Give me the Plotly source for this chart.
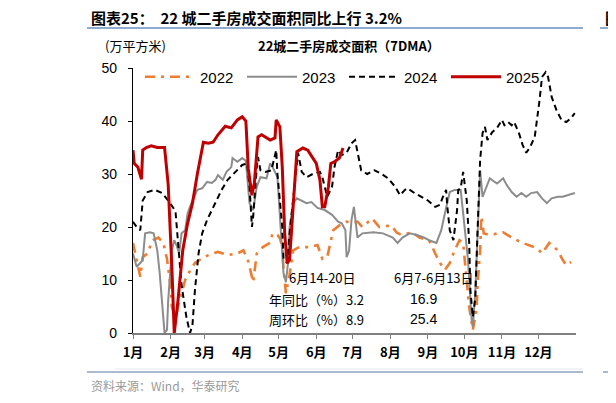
import plotly.graph_objects as go

# 22城二手房成交面积（7DMA），单位：万平方米；横轴为一年中的第几天
days_2022 = [0, 3, 6, 8, 12, 16, 21, 25, 28, 31, 32, 35, 37, 40, 43, 45, 51, 57, 62, 70, 78, 86,
             91, 95, 98, 99, 102, 107, 113, 115, 119, 121, 123, 124, 126, 129, 132, 137, 146, 152,
             156, 160, 165, 170, 176, 181, 185, 189, 197, 203, 213, 217, 221, 230, 236, 244, 249,
             253, 257, 261, 265, 269, 272, 275, 277, 280, 283, 284, 286, 287, 289, 294, 300, 305,
             312, 321, 328, 333, 337, 343, 350, 354, 357, 361]
area_2022 = [17, 13.8, 10.6, 14.3, 15, 17.5, 18, 17, 14, 8.7, 5, 2.4, 5, 7.5, 10, 11, 13.2, 14.1,
             14.7, 15.3, 14.7, 15, 15.6, 13.5, 10.6, 9.6, 15, 16.2, 17, 18.8, 18.5, 17.9, 16.2, 12,
             7.5, 11, 15.6, 16.2, 16.2, 16.6, 14, 14.3, 19.4, 20.3, 21, 20.8, 21, 20, 21.6, 20, 20.3,
             19, 18.5, 19, 18, 17.5, 15, 13.2, 11.9, 13.2, 15.6, 17.5, 17, 9.4, 4.9, 0.6, 4.3, 9.4,
             15.6, 22, 18.8, 18.5, 18.8, 19, 18, 17, 16.4, 16, 15, 17, 15.6, 13.8, 12.8, 13.4]

days_2023 = [0, 3, 6, 8, 10, 14, 17, 20, 22, 24, 26, 28, 29, 32, 34, 36, 38, 40, 43, 45, 49, 53,
             57, 61, 65, 68, 70, 74, 77, 81, 82, 86, 90, 93, 94, 96, 99, 102, 105, 110, 113, 115,
             119, 121, 123, 124, 126, 128, 129, 132, 135, 139, 143, 147, 152, 158, 164, 169, 172,
             175, 176, 178, 180, 182, 184, 185, 189, 198, 206, 214, 218, 222, 228, 234, 240, 244,
             250, 254, 257, 259, 261, 265, 270, 272, 273, 276, 279, 280, 282, 284, 286, 288, 291,
             294, 298, 300, 305, 308, 312, 316, 320, 324, 328, 333, 337, 341, 345, 350, 354, 358,
             364]
area_2023 = [15, 12.5, 13.2, 13.8, 18.8, 19, 18.8, 15.6, 11.3, 6.2, 0, 0.6, 6.2, 15.6, 17.5, 16.5,
             15, 18.8, 19.4, 22.6, 25, 27, 27.3, 28.5, 28.3, 28.9, 29.8, 28.9, 30.4, 31.3, 33, 32.3,
             33, 32.5, 29.4, 24.5, 23.2, 27.6, 29.4, 29.2, 32, 31.3, 29.4, 21.9, 15.6, 11.3, 9.6,
             13.8, 20, 24.5, 25.4, 25, 24.5, 24.7, 23.6, 23.2, 22.3, 21, 20.7, 19.4, 14.3, 15.5,
             21.3, 23.8, 20, 18, 18.8, 19, 18.8, 18, 17, 18, 18.8, 18.5, 18, 17.5, 17, 19.4, 22.6,
             24.5, 26.6, 27, 27, 22.6, 20.7, 13.8, 2.5, 1.1, 7.5, 20, 30.7, 25.7, 27.6, 29.2, 28.5,
             28.2, 29.2, 27.9, 26.6, 25.7, 26.4, 25.7, 26.4, 26.6, 25.4, 24.5, 25.4, 25.7, 25.7, 26,
             26.4]

days_2024 = [0, 3, 6, 8, 12, 18, 24, 29, 35, 37, 40, 44, 47, 49, 51, 54, 57, 61, 66, 73, 78, 84,
             90, 94, 96, 98, 99, 102, 103, 105, 109, 114, 117, 118, 119, 123, 124, 127, 129, 133,
             136, 139, 143, 148, 154, 156, 160, 164, 166, 169, 172, 176, 180, 183, 185, 188, 193,
             199, 205, 210, 216, 220, 224, 226, 232, 238, 243, 249, 253, 255, 258, 259, 261, 264,
             267, 268, 270, 272, 273, 275, 277, 278, 280, 282, 284, 286, 288, 290, 292, 296, 300,
             304, 306, 309, 312, 314, 318, 321, 324, 327, 331, 333, 335, 337, 340, 342, 345, 349,
             353, 357, 361, 364]
area_2024 = [21, 20, 19.4, 25, 26.6, 27, 26.4, 25, 23, 18, 9, 3, 0, 1.5, 8, 15, 18.8, 21.3, 23.8,
             27, 28.9, 30.4, 31.7, 32, 27.6, 20, 21.9, 31.3, 33.2, 30.7, 30.4, 30.7, 33.2, 34.5, 30,
             20, 14, 13.2, 18.8, 28.3, 34, 30.4, 29.4, 30, 30.4, 29.4, 25.7, 27.6, 31.3, 34.5, 33.6,
             34, 35.8, 36.4, 34, 30.7, 30, 30.7, 30, 29.2, 27.6, 26, 27, 27.3, 26.4, 25.7, 25, 23.8,
             24.2, 25.5, 27, 23.8, 19.4, 17.5, 23.2, 27, 27.3, 30.4, 28.9, 25, 17, 8, 3, 6.5, 20,
             32.6, 37.7, 38.9, 36.4, 37.9, 38.7, 40.2, 39.2, 39.8, 39.2, 39.8, 37.7, 35.5, 34, 35,
             37, 40.2, 44, 48.3, 49.2, 48.3, 44.5, 42, 40.2, 39.8, 40.6, 41.5]

days_2025 = [0, 1, 4, 7, 8, 11, 15, 20, 26, 29, 32, 34, 37, 41, 45, 49, 53, 58, 62, 66, 70, 76,
             81, 86, 90, 93, 95, 98, 100, 103, 106, 113, 117, 118, 121, 123, 125, 127, 129, 132,
             135, 140, 144, 151, 154, 156, 158, 161, 163, 166, 170, 172, 173]
area_2025 = [34.5, 32, 31.3, 29, 34.5, 35, 35.3, 35, 35, 28, 12.5, 0, 6, 15.6, 20.7, 24.5, 30, 36,
             35.8, 36, 37.4, 39, 38.7, 40.2, 40.8, 40, 31, 26, 28.3, 37, 37.4, 36.4, 36.8, 40.2,
             38.9, 31.3, 18.8, 13.2, 13.8, 25, 34.2, 34.9, 34.5, 32, 28.9, 23.8, 23.8, 27.6, 32,
             32.3, 33, 34.2, 34.9]

month_start = [0, 31, 59, 90, 120, 151, 181, 212, 243, 273, 304, 334]
month_labels = ["1月", "2月", "3月", "4月", "5月", "6月", "7月", "8月", "9月", "10月", "11月", "12月"]

# 图中右下角的统计表
stat_periods = ["6月14-20日", "6月7-6月13日"]
yoy = [3.2, 16.9]
wow = [8.9, 25.4]

# 页面自带 8px 边距，图本身比窗口小 8px
W, H = 608, 395
L, R, T, B = 125, 40, 60, 70
PW, PH = W - L - R, H - T - B


def px(x):
    # 参考图上的像素横坐标 -> paper 坐标
    return (x - 8 - L) / PW


def py(y):
    return (H - B - (y - 8)) / PH


FONT = "Arial, Liberation Sans, Noto Sans CJK SC"
CJK = "Noto Sans CJK SC, Arial"

fig = go.Figure()
fig.add_trace(go.Scatter(x=days_2022, y=area_2022, name="2022", mode="lines",
                         line=dict(color="#ED7D31", width=2.6, dash="10px,6px,3px,6px")))
fig.add_trace(go.Scatter(x=days_2023, y=area_2023, name="2023", mode="lines",
                         line=dict(color="#8C8C8C", width=2)))
fig.add_trace(go.Scatter(x=days_2024, y=area_2024, name="2024", mode="lines",
                         line=dict(color="#000000", width=2, dash="6px,4px")))
fig.add_trace(go.Scatter(x=days_2025, y=area_2025, name="2025", mode="lines",
                         line=dict(color="#C00000", width=3)))

fig.update_layout(
    width=W, height=H,
    margin=dict(l=L, r=R, t=T, b=B),
    paper_bgcolor="white", plot_bgcolor="white",
    font=dict(family=FONT, size=14, color="black"),
    showlegend=True,
    legend=dict(orientation="h", x=px(140), xanchor="left", y=py(77), yanchor="middle",
                bgcolor="rgba(0,0,0,0)", font=dict(size=15), itemwidth=50, entrywidth=37,
                entrywidthmode="pixels", tracegroupgap=0),
    xaxis=dict(range=[0, 365], tickvals=month_start, ticktext=month_labels,
               showgrid=False, zeroline=False, showline=True, linecolor="#7F7F7F",
               linewidth=1.5, ticks="outside", ticklen=4, tickcolor="#7F7F7F",
               ticklabelstandoff=3,
               tickfont=dict(family=CJK, size=13, weight="bold")),
    yaxis=dict(range=[0, 50], dtick=10, showgrid=False, zeroline=False, showline=True,
               linecolor="black", linewidth=1.2, ticks="outside", ticklen=4,
               tickcolor="black", ticklabelstandoff=8, tickfont=dict(size=14)),
)

# 标题、单位、来源
fig.add_annotation(x=px(89), y=py(17), xref="paper", yref="paper", xanchor="left",
                   yanchor="middle", showarrow=False,
                   text="<b>图表25：  22 城二手房成交面积同比上行 3.2%</b>",
                   font=dict(family=CJK, size=15))
fig.add_annotation(x=px(349), y=py(45), xref="paper", yref="paper", xanchor="center",
                   yanchor="middle", showarrow=False,
                   text="<b>22城二手房成交面积（7DMA）</b>", font=dict(family=CJK, size=13))
fig.add_annotation(x=px(103), y=py(45), xref="paper", yref="paper", xanchor="left",
                   yanchor="middle", showarrow=False, text="(万平方米)",
                   font=dict(family=CJK, size=13))
fig.add_annotation(x=px(89), y=py(385), xref="paper", yref="paper", xanchor="left",
                   yanchor="middle", showarrow=False, text="资料来源：Wind，华泰研究",
                   font=dict(family=CJK, size=12, color="#9A9A9A"))
fig.add_annotation(x=px(603), y=py(17), xref="paper", yref="paper", xanchor="left",
                   yanchor="middle", showarrow=False, text="<b>图</b>",
                   font=dict(family=CJK, size=15))

# 统计表
fig.add_annotation(x=px(287), y=py(277), xref="paper", yref="paper", xanchor="left",
                   yanchor="middle", showarrow=False, text=stat_periods[0],
                   font=dict(family=CJK, size=13))
fig.add_annotation(x=px(392), y=py(277), xref="paper", yref="paper", xanchor="left",
                   yanchor="middle", showarrow=False, text=stat_periods[1],
                   font=dict(family=CJK, size=13))
fig.add_annotation(x=px(267), y=py(299), xref="paper", yref="paper", xanchor="left",
                   yanchor="middle", showarrow=False, text=f"年同比（%）{yoy[0]}",
                   font=dict(family=CJK, size=13))
fig.add_annotation(x=px(267), y=py(319), xref="paper", yref="paper", xanchor="left",
                   yanchor="middle", showarrow=False, text=f"周环比（%）{wow[0]}",
                   font=dict(family=CJK, size=13))
fig.add_annotation(x=px(423), y=py(299), xref="paper", yref="paper", xanchor="center",
                   yanchor="middle", showarrow=False, text=f"{yoy[1]}", font=dict(size=14))
fig.add_annotation(x=px(423), y=py(319), xref="paper", yref="paper", xanchor="center",
                   yanchor="middle", showarrow=False, text=f"{wow[1]}", font=dict(size=14))

# 上下分隔线
fig.add_shape(type="line", xref="paper", yref="paper", x0=px(87), x1=px(583),
              y0=py(28), y1=py(28), line=dict(color="#6A8FC0", width=1.5))
fig.add_shape(type="line", xref="paper", yref="paper", x0=px(600), x1=px(616),
              y0=py(28), y1=py(28), line=dict(color="#6A8FC0", width=1.5))
fig.add_shape(type="line", xref="paper", yref="paper", x0=px(115), x1=px(583),
              y0=py(369), y1=py(369), line=dict(color="#E3E7EE", width=1))
fig.add_shape(type="line", xref="paper", yref="paper", x0=px(87), x1=px(583),
              y0=py(372), y1=py(372), line=dict(color="#A9BBD0", width=2))
fig.add_shape(type="line", xref="paper", yref="paper", x0=px(603), x1=px(616),
              y0=py(372), y1=py(372), line=dict(color="#A9BBD0", width=2))

fig.write_html("out.html")
